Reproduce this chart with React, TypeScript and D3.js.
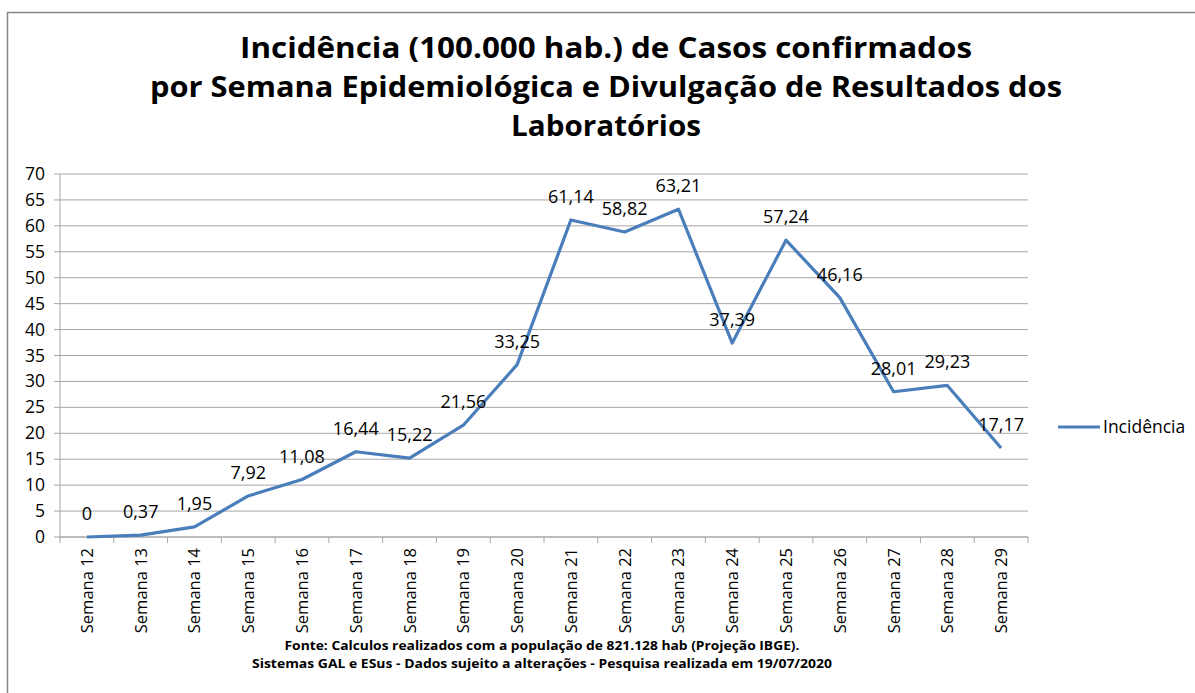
import React from 'react'
import * as d3 from 'd3'

// chart data
const weeks = [
  'Semana 12', 'Semana 13', 'Semana 14', 'Semana 15', 'Semana 16', 'Semana 17',
  'Semana 18', 'Semana 19', 'Semana 20', 'Semana 21', 'Semana 22', 'Semana 23',
  'Semana 24', 'Semana 25', 'Semana 26', 'Semana 27', 'Semana 28', 'Semana 29',
]
const incidence = [
  0, 0.37, 1.95, 7.92, 11.08, 16.44, 15.22, 21.56, 33.25, 61.14, 58.82, 63.21,
  37.39, 57.24, 46.16, 28.01, 29.23, 17.17,
]
const yTicks = [0, 5, 10, 15, 20, 25, 30, 35, 40, 45, 50, 55, 60, 65, 70]
const titleLines = [
  'Incidência (100.000 hab.) de Casos confirmados',
  'por Semana Epidemiológica e Divulgação de Resultados dos',
  'Laboratórios',
]
const footerLines = [
  'Fonte: Calculos realizados com a população de 821.128 hab (Projeção IBGE).',
  'Sistemas GAL e ESus - Dados sujeito a alterações - Pesquisa realizada em  19/07/2020',
]
const seriesName = 'Incidência'

const App = () => {
  const width = 1195,
    height = 693

  const left = 60,
    right = 1028,
    top = 174,
    bottom = 537

  const font = '"Open Sans", Lato, sans-serif'
  const color = '#4a7ebb'

  const x = d3.scaleBand().domain(weeks).range([left, right])
  const y = d3.scaleLinear().domain([0, 70]).range([bottom, top])

  const line = d3
    .line<number>()
    .x((d, i) => (x(weeks[i]) as number) + x.bandwidth() / 2)
    .y(d => y(d))

  const fmt = (v: number) => String(v).replace('.', ',')

  // measured widths of the title / footer lines in the reference
  const titleWidths = [732, 912, 190]
  const footerWidths = [515, 580]

  return (
    <svg
      width={width}
      height={height}
      style={{ position: 'absolute', left: 0, top: 0, background: '#fff' }}
    >
      <rect x={7.5} y={12.5} width={1300} height={800} fill="#fff" stroke="#868686" strokeWidth={1.5} />

      {/* title */}
      <g fontFamily={font} fontWeight="bold" fontSize={29} fill="#000" textAnchor="middle">
        {titleLines.map((t, i) => (
          <text
            key={i}
            x={606}
            y={58 + i * 39}
            textLength={titleWidths[i]}
            lengthAdjust="spacingAndGlyphs"
          >
            {t}
          </text>
        ))}
      </g>

      {/* gridlines and y axis labels */}
      <g fontFamily={font} fontSize={17.5} fill="#000">
        {yTicks.map(t => (
          <g key={t}>
            <line x1={left - 6} x2={right} y1={y(t)} y2={y(t)} stroke="#a6a6a6" strokeWidth={1} />
            <text x={45} y={y(t) + 6} textAnchor="end">
              {t}
            </text>
          </g>
        ))}
      </g>

      {/* axes */}
      <line x1={left} x2={left} y1={top} y2={bottom} stroke="#a6a6a6" />
      <line x1={left} x2={right} y1={bottom} y2={bottom} stroke="#a6a6a6" />
      {weeks.map((w, i) => (
        <line
          key={'t' + i}
          x1={x(w) as number}
          x2={x(w) as number}
          y1={bottom}
          y2={bottom + 6}
          stroke="#a6a6a6"
        />
      ))}
      <line x1={right} x2={right} y1={bottom} y2={bottom + 6} stroke="#a6a6a6" />

      {/* category labels */}
      <g fontFamily={font} fontSize={16.5} fill="#000">
        {weeks.map(w => {
          const cx = (x(w) as number) + x.bandwidth() / 2
          return (
            <text key={w} transform={`translate(${cx + 6},${bottom + 11}) rotate(-90)`} textAnchor="end">
              {w}
            </text>
          )
        })}
      </g>

      {/* series */}
      <path d={line(incidence) || ''} fill="none" stroke={color} strokeWidth={3.2} strokeLinejoin="round" />

      {/* data labels */}
      <g fontFamily={font} fontSize={18} fill="#000" textAnchor="middle">
        {incidence.map((v, i) => (
          <text key={i} x={(x(weeks[i]) as number) + x.bandwidth() / 2} y={y(v) - 17}>
            {fmt(v)}
          </text>
        ))}
      </g>

      {/* legend */}
      <line x1={1058} x2={1100} y1={427} y2={427} stroke={color} strokeWidth={3.2} />
      <text x={1103} y={433} fontFamily={font} fontSize={17.5} fill="#000">
        {seriesName}
      </text>

      {/* footer */}
      <g fontFamily={font} fontWeight="bold" fontSize={12.5} fill="#000" textAnchor="middle">
        {footerLines.map((t, i) => (
          <text
            key={i}
            x={542}
            y={650 + i * 18}
            textLength={footerWidths[i]}
            lengthAdjust="spacingAndGlyphs"
          >
            {t}
          </text>
        ))}
      </g>
    </svg>
  )
}

export default App
